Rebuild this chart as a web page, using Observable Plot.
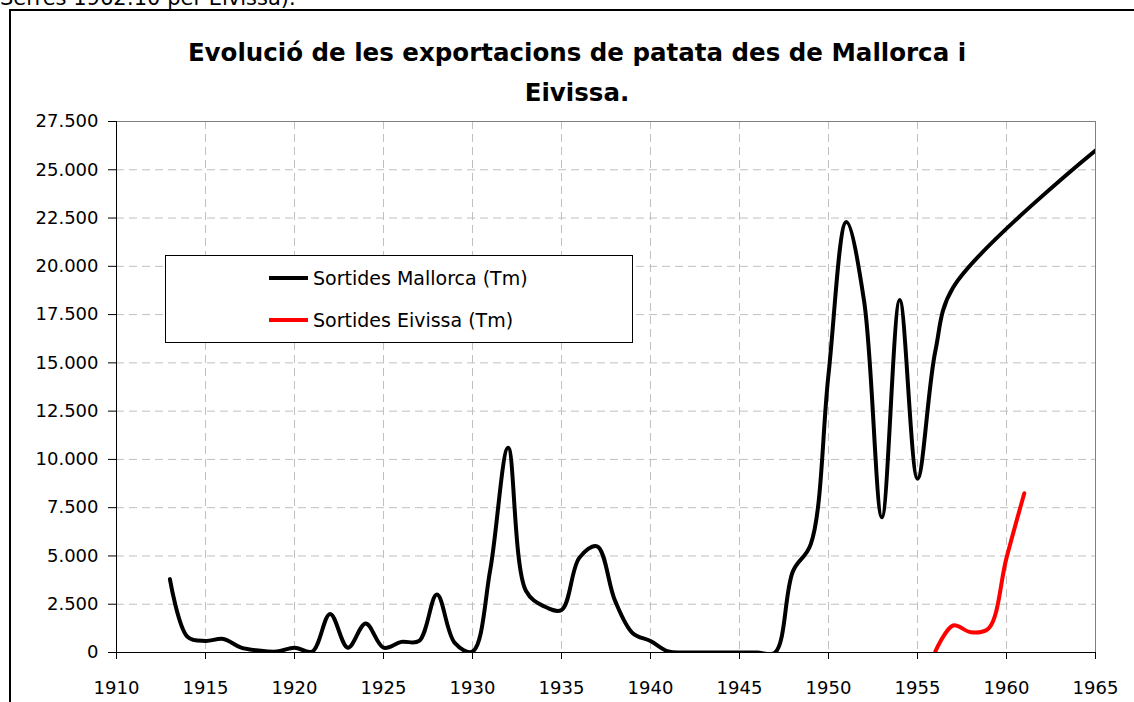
<!DOCTYPE html>
<html>
<head>
<meta charset="utf-8">
<script src="https://cdn.jsdelivr.net/npm/d3@7"></script>
<script src="https://cdn.jsdelivr.net/npm/@observablehq/plot@0.6"></script>
<style>
  html, body { margin: 0; padding: 0; background: #fff; }
  body { width: 1134px; height: 702px; overflow: hidden; position: relative;
         font-family: "DejaVu Sans", sans-serif; color: #000; }
  #note { position: absolute; left: 0; top: -12px; font-size: 21px; line-height: 21px; white-space: nowrap; }
  #box { position: absolute; left: 9px; top: 9px; width: 1200px; height: 800px;
         border-left: 2px solid #000; border-top: 2px solid #000; }
  #title { position: absolute; left: 0; width: 1154px; text-align: center; font-weight: bold;
           font-size: 24.5px; line-height: 40px; top: 33px; white-space: nowrap; }
  #chart { position: absolute; left: 0; top: 100px; }
  #legend { position: absolute; left: 165px; top: 255px; }
</style>
</head>
<body>
<div id="note">Serres 1962:10 per Eivissa).</div>
<div id="box"></div>
<div id="title">Evolució de les exportacions de patata des de Mallorca i<br>Eivissa.</div>
<div id="chart"></div>
<svg id="legend" width="470" height="90"></svg>
<script>
// ---- data ----
const seriesNames = ["Sortides Mallorca (Tm)", "Sortides Eivissa (Tm)"];
const seriesColors = ["#000000", "#ff0000"];

const mallorcaYears = [1913,1914,1915,1916,1917,1918,1919,1920,1921,1922,1923,1924,1925,1926,1927,1928,1929,1930,
  1931,1932,1933,1934,1935,1936,1937,1938,1939,1940,1941,1942,1943,1944,1945,1946,1947,1948,1949,1950,
  1951,1952,1953,1954,1955,1956,1957,1965];
const mallorcaTm = [3800,800,600,700,250,100,50,250,50,2000,250,1500,250,550,600,3000,500,50,
  4300,10600,3200,2400,2200,4900,5500,2700,1000,600,50,0,0,0,0,0,0,4200,5600,14400,
  22300,18200,7000,18250,9000,15600,18900,26000];

const eivissaYears = [1956,1957,1958,1959,1960,1961];
const eivissaTm = [50,1400,1050,1250,4900,8250];

const xTicks = [1910,1915,1920,1925,1930,1935,1940,1945,1950,1955,1960,1965];
const yTicks = [0,2500,5000,7500,10000,12500,15000,17500,20000,22500,25000,27500];

// ---- build ----
const fmt = d3.formatLocale({decimal: ",", thousands: ".", grouping: [3], currency: ["", ""]}).format(",d");
const mallorca = mallorcaYears.map((y, i) => ({year: y, value: mallorcaTm[i]}));
const eivissa = eivissaYears.map((y, i) => ({year: y, value: eivissaTm[i]}));
const FONT = '"DejaVu Sans", sans-serif';
const gridStyle = {stroke: "#c0c0c0", strokeWidth: 1, strokeDasharray: "8,5"};

const chart = Plot.plot({
  width: 1134, height: 602,
  marginLeft: 116, marginRight: 39, marginTop: 21, marginBottom: 50,
  x: {domain: [1910, 1965]},
  y: {domain: [0, 27500]},
  style: {fontFamily: FONT, fontSize: "18px", color: "#000", background: "transparent"},
  marks: [
    Plot.ruleX(xTicks.filter(d => d > 1910 && d < 1965), gridStyle),
    Plot.ruleY(yTicks.filter(d => d > 0 && d < 27500), gridStyle),
    Plot.ruleY([27500], {stroke: "#808080"}),
    Plot.ruleX([1965], {stroke: "#808080"}),
    Plot.axisY(yTicks, {tickSize: 8, tickPadding: 10, tickFormat: fmt, fontSize: 18, label: null}),
    Plot.axisX(xTicks, {tickSize: 7, tickPadding: 22, tickFormat: d => String(d), fontSize: 18, label: null}),
    Plot.ruleX([1910], {stroke: "#000"}),
    Plot.ruleY([0], {stroke: "#000"}),
    Plot.line(mallorca, {x: "year", y: "value", stroke: seriesColors[0], strokeWidth: 4, curve: "catmull-rom", clip: true}),
    Plot.line(eivissa, {x: "year", y: "value", stroke: seriesColors[1], strokeWidth: 4, curve: "catmull-rom", clip: true})
  ]
});
document.getElementById("chart").appendChild(chart);

// ---- legend ----
const lg = d3.select("#legend");
lg.append("rect").attr("x", 0.5).attr("y", 0.5).attr("width", 467).attr("height", 87)
  .attr("fill", "#fff").attr("stroke", "#000");
seriesNames.forEach((name, i) => {
  const cy = 23 + i * 42;
  lg.append("line").attr("x1", 104).attr("x2", 143).attr("y1", cy).attr("y2", cy)
    .attr("stroke", seriesColors[i]).attr("stroke-width", 4);
  lg.append("text").attr("x", 148).attr("y", cy).attr("dy", "0.35em")
    .attr("font-family", FONT).attr("font-size", 19).attr("fill", "#000").text(name);
});
</script>
</body>
</html>
